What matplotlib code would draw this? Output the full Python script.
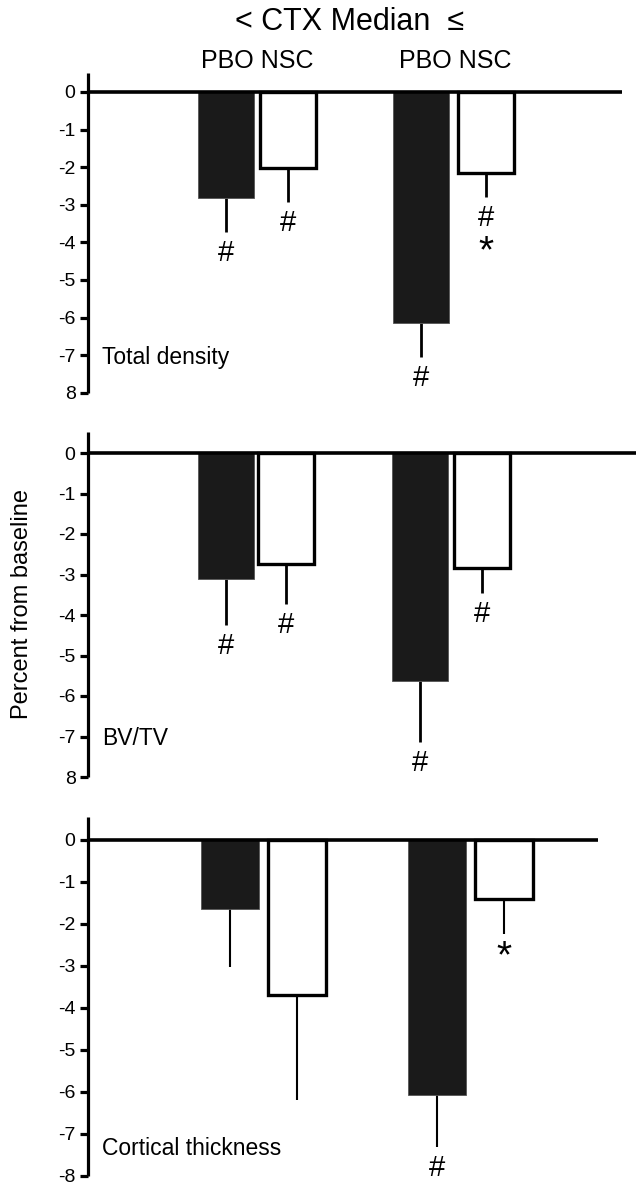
import matplotlib
matplotlib.use("Agg")
import matplotlib.pyplot as plt

plt.rcParams['font.family'] = ['Liberation Sans', 'DejaVu Sans']

# bars: PBO / NSC below and above the CTX median
groups = ["PBO", "NSC", "PBO", "NSC"]

density_mean = [-2.82, -2.02, -6.14, -2.15]
density_err = [0.90, 0.91, 0.91, 0.64]
density_hash = ["#", "#", "#", "#"]
density_star = ["", "", "", "*"]

bvtv_mean = [-3.11, -2.74, -5.63, -2.84]
bvtv_err = [1.14, 0.99, 1.51, 0.62]
bvtv_hash = ["#", "#", "#", "#"]
bvtv_star = ["", "", "", ""]

cort_mean = [-1.64, -3.69, -6.07, -1.40]
cort_err = [1.38, 2.51, 1.23, 0.83]
cort_hash = ["", "", "#", ""]
cort_star = ["", "", "", "*"]

yticks = [0, -1, -2, -3, -4, -5, -6, -7, -8]

W, H = 638, 1186
fig = plt.figure(figsize=(W / 100, H / 100), dpi=100)

# layout, in pixels: y of value 0, pixels per unit, spine top, bar centres, zero line end
panels = [
    dict(name="Total density", mean=density_mean, err=density_err,
         hash=density_hash, star=density_star,
         y0=92, unit=37.6, top=0.5, xs=[226, 288, 421, 486], bw=56,
         zend=622, elw=2.0, lab8="8", lab8size=13, namey=-7.05),
    dict(name="BV/TV", mean=bvtv_mean, err=bvtv_err,
         hash=bvtv_hash, star=bvtv_star,
         y0=453, unit=40.5, top=0.52, xs=[226, 286, 420, 482], bw=56,
         zend=636, elw=2.0, lab8="8", lab8size=10, namey=-7.05),
    dict(name="Cortical thickness", mean=cort_mean, err=cort_err,
         hash=cort_hash, star=cort_star,
         y0=840, unit=42.0, top=0.55, xs=[230, 297, 437, 504], bw=58,
         zend=598, elw=1.5, lab8="-8", lab8size=14, namey=-7.35),
]

left = 88
for p in panels:
    ybot = p["y0"] + 8 * p["unit"]
    ytop = p["y0"] - p["top"] * p["unit"]
    ax = fig.add_axes([left / W, (H - ybot) / H, (W - left) / W, (ybot - ytop) / H])
    ax.set_xlim(left, W)
    ax.set_ylim(-8, p["top"])
    for s in ["top", "right", "bottom"]:
        ax.spines[s].set_visible(False)
    ax.spines["left"].set_linewidth(2.3)
    ax.spines["left"].set_capstyle("butt")
    ax.set_xticks([])
    ax.set_yticks(yticks)
    labels = [str(t) for t in yticks]
    labels[-1] = p["lab8"]
    ax.set_yticklabels(labels)
    ax.get_yticklabels()[-1].set_fontsize(p["lab8size"])
    ax.tick_params(axis="y", direction="out", length=6, width=2.3, labelsize=14, pad=3)

    colors = ["#1a1a1a" if g == "PBO" else "white" for g in groups]
    edges = ["#555555" if g == "PBO" else "black" for g in groups]
    lws = [0.6 if g == "PBO" else 2.4 for g in groups]
    ax.bar(p["xs"], p["mean"], width=p["bw"], color=colors, edgecolor=edges,
           linewidth=lws, zorder=2)
    ax.errorbar(p["xs"], p["mean"], yerr=[p["err"], [0] * len(p["err"])],
                fmt="none", ecolor="black", elinewidth=p["elw"], capsize=0, zorder=1)
    ax.plot([left, p["zend"]], [0, 0], color="black", lw=2.6,
            solid_capstyle="butt", zorder=3, clip_on=False)

    for x, m, e, hs, st in zip(p["xs"], p["mean"], p["err"], p["hash"], p["star"]):
        yend = m - e
        if hs:
            ax.annotate(hs, (x, yend), xytext=(0, -5), textcoords="offset points",
                        ha="center", va="top", fontsize=21)
        if st:
            off = -27 if hs else -4
            ax.annotate(st, (x, yend), xytext=(0, off), textcoords="offset points",
                        ha="center", va="top", fontsize=28)

    ax.text(102, p["namey"], p["name"], va="center", ha="left", fontsize=16.5)

# header
fig.text(350 / W, 1 - 22 / H, "< CTX Median  \u2264", ha="center", va="center", fontsize=22)
fig.text(257 / W, 1 - 61 / H, "PBO NSC", ha="center", va="center", fontsize=18)
fig.text(455 / W, 1 - 61 / H, "PBO NSC", ha="center", va="center", fontsize=18)

fig.text(22 / W, 1 - 604 / H, "Percent from baseline", rotation=90,
         ha="center", va="center", fontsize=17)

fig.savefig("out.png", dpi=100, facecolor="white")
